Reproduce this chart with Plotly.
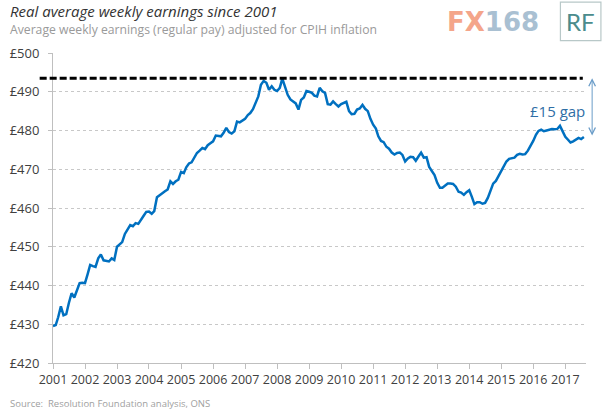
import pandas as pd
import plotly.graph_objects as go

# Monthly real average weekly earnings (£), Jan 2001 - Aug 2017
y2001 = [429.5, 429.8, 431.8, 434.6, 432.3, 432.6, 435.5, 438.0, 436.9, 439.0, 440.6, 440.7]
y2002 = [440.6, 443.0, 445.3, 445.0, 444.8, 447.0, 448.0, 446.5, 446.3, 446.2, 447.0, 446.6]
y2003 = [450.0, 450.6, 451.2, 453.3, 454.4, 455.6, 455.3, 456.1, 455.9, 456.8, 458.0, 459.0]
y2004 = [459.1, 458.5, 459.2, 462.8, 463.4, 463.8, 464.3, 464.8, 466.9, 466.2, 466.9, 467.3]
y2005 = [469.3, 469.0, 470.5, 471.5, 471.8, 473.2, 474.2, 474.8, 475.5, 475.2, 476.2, 476.7]
y2006 = [477.2, 478.7, 478.6, 478.5, 479.4, 480.7, 479.6, 479.2, 479.8, 482.3, 482.1, 482.6]
y2007 = [483.0, 484.0, 484.5, 485.5, 487.3, 488.8, 491.8, 492.8, 492.3, 490.5, 491.4, 490.5]
y2008 = [490.2, 491.0, 493.4, 491.4, 489.2, 488.0, 487.4, 487.0, 485.4, 487.9, 488.5, 490.2]
y2009 = [490.0, 489.7, 489.0, 488.8, 491.0, 490.1, 489.7, 486.8, 486.7, 487.5, 486.8, 486.2]
y2010 = [486.8, 487.2, 487.4, 485.0, 484.2, 484.3, 485.4, 485.7, 486.6, 485.6, 485.0, 483.0]
y2011 = [481.5, 480.5, 478.5, 477.3, 477.0, 475.8, 475.3, 474.3, 473.8, 474.2, 474.3, 473.7]
y2012 = [472.0, 472.8, 473.2, 473.1, 472.2, 473.3, 474.3, 473.0, 473.1, 470.6, 469.5, 468.5]
y2013 = [466.5, 465.2, 465.2, 465.8, 466.3, 466.3, 466.2, 465.5, 464.2, 464.0, 463.4, 464.1]
y2014 = [464.6, 462.8, 461.0, 461.5, 461.5, 461.1, 461.3, 462.6, 464.6, 466.3, 467.0, 468.2]
y2015 = [469.4, 470.8, 472.0, 472.7, 472.9, 473.0, 473.7, 474.0, 473.8, 473.9, 474.8, 476.0]
y2016 = [477.3, 478.9, 479.9, 480.2, 479.8, 480.0, 480.1, 480.4, 480.3, 480.4, 481.2, 479.6]
y2017 = [478.4, 477.6, 476.9, 477.2, 477.7, 478.1, 477.8, 478.3]

earnings = (y2001 + y2002 + y2003 + y2004 + y2005 + y2006 + y2007 + y2008 + y2009
            + y2010 + y2011 + y2012 + y2013 + y2014 + y2015 + y2016 + y2017)
months = pd.date_range("2001-01-01", periods=len(earnings), freq="MS")

peak_level = 493.5
latest_level = 478.3
gap_label = "£15 gap"
y_ticks = [420, 430, 440, 450, 460, 470, 480, 490, 500]
y_tick_labels = ["£" + str(v) for v in y_ticks]

title = "Real average weekly earnings since 2001"
subtitle = "Average weekly earnings (regular pay) adjusted for CPIH inflation"
source = "Source:  Resolution Foundation analysis, ONS"

fig = go.Figure()
fig.add_trace(go.Scatter(
    x=months, y=earnings, mode="lines",
    line=dict(color="#0070c0", width=2.5),
    hoverinfo="skip", showlegend=False,
))

font_family = "Open Sans, Lato, sans-serif"

fig.update_layout(
    width=605, height=417,
    margin=dict(l=53, r=19, t=53, b=54, autoexpand=False),
    paper_bgcolor="white", plot_bgcolor="white",
    font=dict(family=font_family, color="#404040"),
    xaxis=dict(
        type="date", automargin=False,
        range=["2001-01-01", "2017-08-25"],
        tick0="2001-01-01", dtick="M12", tickformat="%Y", tickangle=0,
        showgrid=False, zeroline=False,
        showline=True, linecolor="#bfbfbf", linewidth=1,
        ticks="outside", ticklen=5, tickcolor="#bfbfbf",
        tickfont=dict(size=12.5, color="#404040"),
    ),
    yaxis=dict(
        automargin=False,
        range=[420, 500], tickvals=y_ticks, ticktext=y_tick_labels,
        showgrid=True, gridcolor="#c8c8c8", griddash="dot", gridwidth=1,
        zeroline=False,
        showline=True, linecolor="#bfbfbf", linewidth=1,
        ticks="outside", ticklen=4, tickcolor="#bfbfbf",
        ticklabelstandoff=6,
        tickfont=dict(size=13, color="#404040"),
    ),
)

# Previous peak dashed line
fig.add_shape(type="line", xref="paper", yref="y",
              x0=-0.025, x1=0.994, y0=peak_level, y1=peak_level,
              line=dict(color="black", width=3, dash="7px,3px"))

# Double-headed gap arrow
fig.add_annotation(xref="paper", yref="y", x=1.0115, y=peak_level,
                   axref="pixel", ayref="y", ax=0, ay=latest_level,
                   showarrow=True, arrowside="end+start", arrowhead=5,
                   arrowsize=1.3, arrowwidth=1, arrowcolor="#6a9cc8", text="")
fig.add_annotation(xref="paper", yref="paper", x=0.946, y=0.814,
                   xanchor="center", yanchor="middle", showarrow=False,
                   text=gap_label, font=dict(size=15, color="#2f6ea5", family=font_family))

# Titles and source
fig.add_annotation(xref="paper", yref="paper", x=-0.084, y=1.135, xanchor="left", yanchor="middle",
                   showarrow=False, text="<i>" + title + "</i>",
                   font=dict(size=15, color="#333333", family=font_family))
fig.add_annotation(xref="paper", yref="paper", x=-0.084, y=1.077, xanchor="left", yanchor="middle",
                   showarrow=False, text=subtitle,
                   font=dict(size=12.2, color="#9a9a9a", family=font_family))
fig.add_annotation(xref="paper", yref="paper", x=-0.084, y=-0.132, xanchor="left", yanchor="middle",
                   showarrow=False, text=source,
                   font=dict(size=9.5, color="#a0a0a0", family=font_family))

# Watermark / logo
fig.add_annotation(xref="paper", yref="paper", x=0.735, y=1.10, xanchor="left", yanchor="middle",
                   showarrow=False,
                   text="<b><span style='color:#f4a58a'>FX</span><span style='color:#a9c0d2'>168</span></b>",
                   font=dict(size=26, family="DejaVu Sans, sans-serif"))
fig.add_shape(type="rect", xref="paper", yref="paper",
              x0=0.952, x1=1.028, y0=1.04, y1=1.164,
              line=dict(color="#b8c8c8", width=1.2), fillcolor="white")
fig.add_annotation(xref="paper", yref="paper", x=0.990, y=1.103, xanchor="center", yanchor="middle",
                   showarrow=False, text="RF",
                   font=dict(size=24, color="#4b8c8c", family="Lato, sans-serif"))

fig.write_html("out.html", config={"displayModeBar": False},
               post_script="document.body.style.margin='0';document.body.style.overflow='hidden';")
